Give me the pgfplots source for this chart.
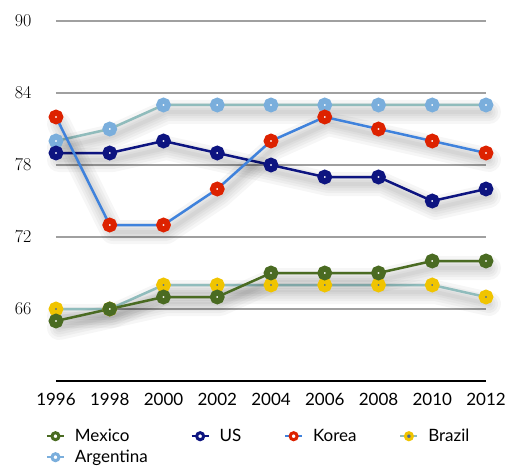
\documentclass[border=0pt]{standalone}
\usepackage{fontspec}
\usepackage{pgfplots}
\pgfplotsset{compat=1.18}
\newfontfamily\lato{Lato}

\definecolor{mxgreen}{HTML}{4A6B22}
\definecolor{usnavy}{HTML}{0D1480}
\definecolor{krred}{HTML}{DD2200}
\definecolor{krline}{HTML}{3F82DC}
\definecolor{bryellow}{HTML}{F0C400}
\definecolor{brdot}{HTML}{4A6A9A}
\definecolor{teal}{HTML}{90BCBC}
\definecolor{arblue}{HTML}{7AAEDC}
\definecolor{gridgray}{HTML}{A0A0A0}

% soft drop shadow under each series line
\tikzset{
  shadowlayer/.style={preaction={draw=black, opacity=0.035, line width=#1,
      line join=round, line cap=round, transform canvas={shift={(3pt,-7pt)}}}},
  softshadow/.style={shadowlayer=24pt, shadowlayer=18pt, shadowlayer=13pt,
      shadowlayer=8pt, shadowlayer=4pt},
}

\begin{document}
\begin{tikzpicture}
\useasboundingbox (-56pt,-85pt) rectangle (449pt,381pt);
\begin{axis}[
  scale only axis, width=430pt, height=360pt,
  xmin=1996, xmax=2012, ymin=60, ymax=90,
  clip=false,
  axis x line=bottom, axis y line=left,
  x axis line style={black, line width=2.5pt, -},
  y axis line style={draw=none},
  xtick={1996,1998,...,2012}, ytick={66,72,78,84,90},
  major tick length=0pt,
  ymajorgrids, major grid style={gridgray, line width=2.5pt},
  /pgf/number format/assume math mode=true,
  /pgf/number format/1000 sep={},
  xticklabel style={font=\lato\fontsize{17}{19}\selectfont, yshift=-9pt},
  yticklabel style={font=\fontsize{18}{20}\selectfont, xshift=-21pt},
  every axis plot/.append style={line width=2.5pt, mark=*, mark size=4.3pt},
  legend columns=4,
  legend cell align=left,
  legend style={at={(axis description cs:0,0)}, anchor=north west,
    xshift=-10pt, yshift=-46pt, draw=none, fill=none,
    font=\lato\fontsize{17}{19}\selectfont, inner sep=0pt, row sep=3pt,
    /tikz/every even column/.append style={column sep=41pt}},
  legend image code/.code={%
    \draw[#1, line width=1.5pt, mark size=3.5pt, mark repeat=2, mark phase=2]
      plot coordinates {(0cm,0cm) (0.3cm,0cm) (0.6cm,0cm)};
    \path (0.87cm,0cm);},
]
% Brazil
\addplot[color=teal, softshadow, mark options={draw=bryellow, fill=brdot, line width=6pt}, forget plot]
  coordinates {(1996,66) (1998,66) (2000,68) (2002,68) (2004,68) (2006,68) (2008,68) (2010,68) (2012,67)};
% Mexico
\addplot[color=mxgreen, softshadow, mark options={draw=mxgreen, fill=white, line width=6pt}, forget plot]
  coordinates {(1996,65) (1998,66) (2000,67) (2002,67) (2004,69) (2006,69) (2008,69) (2010,70) (2012,70)};
% Argentina
\addplot[color=teal, softshadow, mark options={draw=arblue, fill=white, line width=6pt}, forget plot]
  coordinates {(1996,80) (1998,81) (2000,83) (2002,83) (2004,83) (2006,83) (2008,83) (2010,83) (2012,83)};
% US
\addplot[color=usnavy, softshadow, mark options={draw=usnavy, fill=white, line width=6pt}, forget plot]
  coordinates {(1996,79) (1998,79) (2000,80) (2002,79) (2004,78) (2006,77) (2008,77) (2010,75) (2012,76)};
% Korea
\addplot[color=krline, softshadow, mark options={draw=krred, fill=white, line width=6pt}, forget plot]
  coordinates {(1996,82) (1998,73) (2000,73) (2002,76) (2004,80) (2006,82) (2008,81) (2010,80) (2012,79)};

% legend entries
\addlegendimage{color=mxgreen, mark=*, mark options={draw=mxgreen, fill=white, line width=3pt}}
\addlegendentry{Mexico}
\addlegendimage{color=usnavy, mark=*, mark options={draw=usnavy, fill=white, line width=3pt}}
\addlegendentry{US}
\addlegendimage{color=krline, mark=*, mark options={draw=krred, fill=white, line width=3pt}}
\addlegendentry{Korea}
\addlegendimage{color=teal, mark=*, mark options={draw=bryellow, fill=brdot, line width=3pt}}
\addlegendentry{Brazil}
\addlegendimage{color=arblue, mark=*, mark options={draw=arblue, fill=white, line width=3pt}}
\addlegendentry{Argentina}
\end{axis}
\end{tikzpicture}
\end{document}
